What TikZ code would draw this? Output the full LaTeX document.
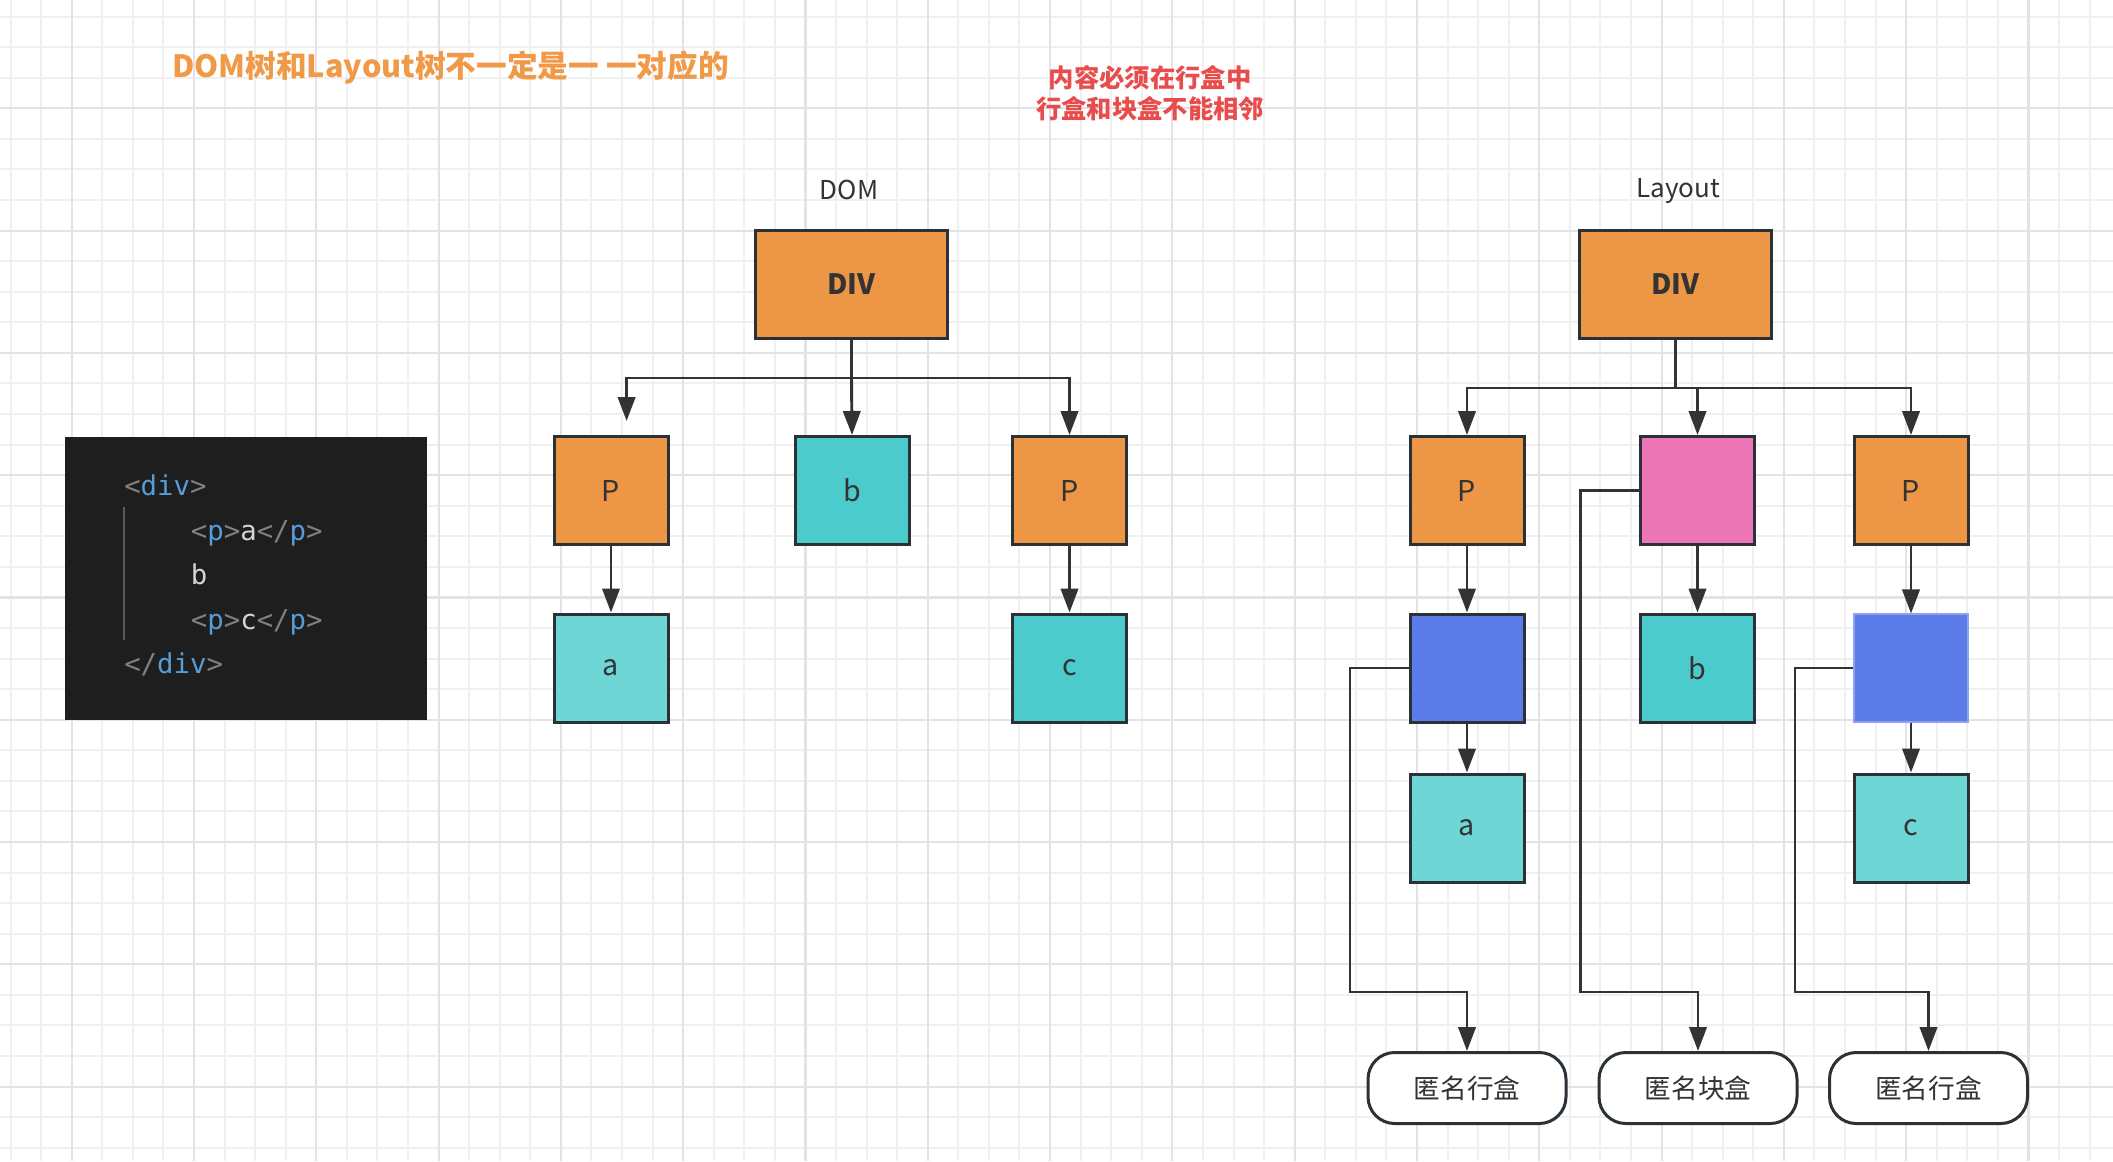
\documentclass[tikz,border=0pt]{standalone}
\usepackage{fontspec}
\setmainfont{Noto Sans CJK SC}
\newfontfamily\codefont{DejaVu Sans Mono}
\usetikzlibrary{arrows.meta}
\definecolor{gminor}{HTML}{F0F0F0}
\definecolor{gmajor}{HTML}{E3E3E3}
\definecolor{bordc}{HTML}{2A3238}
\definecolor{connc}{HTML}{333333}
\definecolor{orangec}{HTML}{EC9646}
\definecolor{tealc}{HTML}{4BCBCB}
\definecolor{lteal}{HTML}{6FD6D6}
\definecolor{pinkc}{HTML}{EC75B5}
\definecolor{bluec}{HTML}{5B7BE8}
\definecolor{titlec}{HTML}{F09A48}
\definecolor{redc}{HTML}{E84C4C}
\definecolor{codebg}{HTML}{1E1E1E}
\definecolor{cbr}{HTML}{808080}
\definecolor{cblue}{HTML}{569CD6}
\definecolor{ctext}{HTML}{D4D4D4}
\definecolor{txtc}{HTML}{333333}
\tikzset{
  minorline/.style={draw=gminor, line width=1.5pt},
  majorline/.style={draw=gmajor, line width=1.6pt},
  boxbase/.style={rectangle, draw=bordc, line width=2.25pt, inner sep=0pt,
    minimum width=85.5pt, minimum height=81pt, text=txtc,
    font=\fontsize{21.5}{25}\selectfont},
  divbox/.style={boxbase, fill=orangec, minimum width=144pt,
    font=\fontsize{21}{25}\selectfont\bfseries},
  obox/.style={boxbase, fill=orangec},
  tbox/.style={boxbase, fill=tealc},
  lbox/.style={boxbase, fill=lteal},
  pbox/.style={boxbase, fill=pinkc},
  bbox/.style={boxbase, fill=bluec},
  anonbox/.style={rectangle, draw=bordc, line width=2.25pt, fill=white,
    rounded corners=20pt, minimum width=148.5pt, minimum height=53.25pt,
    text=txtc, font=\fontsize{20}{24}\selectfont},
  conn/.style={draw=connc, line width=2.2pt},
  arr/.style={conn, -{Triangle[length=18pt,width=13pt]}},
  treelabel/.style={text=txtc, font=\fontsize{19.5}{23}\selectfont},
  codeline/.style={anchor=base west, inner sep=0pt,
    font=\codefont\fontsize{20.5}{24}\selectfont}
}
\begin{document}
\begin{tikzpicture}[x=0.75pt, y=-0.75pt]
\useasboundingbox (0,0) rectangle (2113,1161);
\fill[white] (0,0) rectangle (2113,1161);
% grid
\foreach \i in {0,...,69} \draw[minorline] ({10.5+30.575*\i},0) -- ++(0,1161);
\foreach \i in {0,...,38} \draw[minorline] (0,{16.5+30.575*\i}) -- ++(2113,0);
\foreach \i in {0,...,17} \draw[majorline] ({71.7+122.3*\i},0) -- ++(0,1161);
\foreach \i in {0,...,8} \draw[majorline] (0,{108.3+122.3*\i}) -- ++(2113,0);

% titles
\node[anchor=west, inner sep=0pt, text=titlec, font=\fontsize{23}{27}\selectfont\bfseries]
  (title) at (172,68) {DOM树和Layout树不一定是一 一对应的};
\node[align=center, inner sep=0pt, text=redc, font=\fontsize{19}{23.7}\selectfont\bfseries]
  (note) at (1150,93) {内容必须在行盒中\\行盒和块盒不能相邻};
\node[treelabel] (domlabel) at (849,190) {DOM};
\node[treelabel] (laylabel) at (1678,191) {Layout};

% code block
\fill[codebg] (65,437) rectangle (427,720);
\draw[draw=cbr!60!codebg, line width=1.2pt] (124,507) -- (124,640);
\node[codeline] (c1) at (124,495) {{\color{cbr}<}{\color{cblue}div}{\color{cbr}>}};
\node[codeline] (c2) at (190.7,540) {{\color{cbr}<}{\color{cblue}p}{\color{cbr}>}{\color{ctext}a}{\color{cbr}</}{\color{cblue}p}{\color{cbr}>}};
\node[codeline] (c3) at (190.7,584) {{\color{ctext}b}};
\node[codeline] (c4) at (190.7,629) {{\color{cbr}<}{\color{cblue}p}{\color{cbr}>}{\color{ctext}c}{\color{cbr}</}{\color{cblue}p}{\color{cbr}>}};
\node[codeline] (c5) at (124,673) {{\color{cbr}</}{\color{cblue}div}{\color{cbr}>}};

% DOM tree
\node[divbox] (ddiv) at (851.5,284) {DIV};
\node[obox] (dp1) at (611,490.5) {P};
\node[tbox] (db) at (852,490.5) {b};
\node[obox] (dp2) at (1069.5,490.5) {P};
\node[lbox] (da) at (611,668) {a};
\node[tbox] (dc) at (1069.5,668) {c};
\coordinate (dj) at (851.5,378);
\coordinate (dp1tip) at (626.6,421);
\draw[conn] (ddiv.south) -- (dj);
\draw[arr] (dj) -| (dp1tip);
\draw[arr] (dj) -- (db.north);
\draw[arr] (dj) -| (dp2.north);
\draw[arr] (dp1.south) -- (da.north);
\draw[arr] (dp2.south) -- (dc.north);

% Layout tree
\node[divbox] (ldiv) at (1675.5,284) {DIV};
\node[obox] (lp1) at (1467,490.5) {P};
\node[pbox] (lpink) at (1697.5,490.5) {};
\node[obox] (lp2) at (1911,490.5) {P};
\node[bbox] (lblue1) at (1467,668) {};
\node[tbox] (lb) at (1697.5,668) {b};
\node[bbox, draw=bluec!70!white, line width=0.8pt] (lblue2) at (1911,668) {};
\node[lbox] (la) at (1467,828) {a};
\node[lbox] (lc) at (1911,828) {c};
\node[anonbox] (an1) at (1467,1088) {匿名行盒};
\node[anonbox] (an2) at (1698,1088) {匿名块盒};
\node[anonbox] (an3) at (1928.5,1088) {匿名行盒};
\coordinate (lj) at (1675.5,388);
\draw[conn] (ldiv.south) -- (lj);
\draw[arr] (lj) -| (lp1.north);
\draw[arr] (lj) -| (lpink.north);
\draw[arr] (lj) -| (lp2.north);
\draw[arr] (lp1.south) -- (lblue1.north);
\draw[arr] (lblue1.south) -- (la.north);
\draw[arr] (lpink.south) -- (lb.north);
\draw[arr] (lp2.south) -- (lblue2.north);
\draw[arr] (lblue2.south) -- (lc.north);
\coordinate (k1) at (1350,992);
\coordinate (k2) at (1580.7,992);
\coordinate (k3) at (1795,992);
\draw[arr] (lblue1.west) -| (k1) -| (an1.north);
\draw[arr] (lpink.west) -| (k2) -| (an2.north);
\draw[arr] (lblue2.west) -| (k3) -| (an3.north);
\end{tikzpicture}
\end{document}
